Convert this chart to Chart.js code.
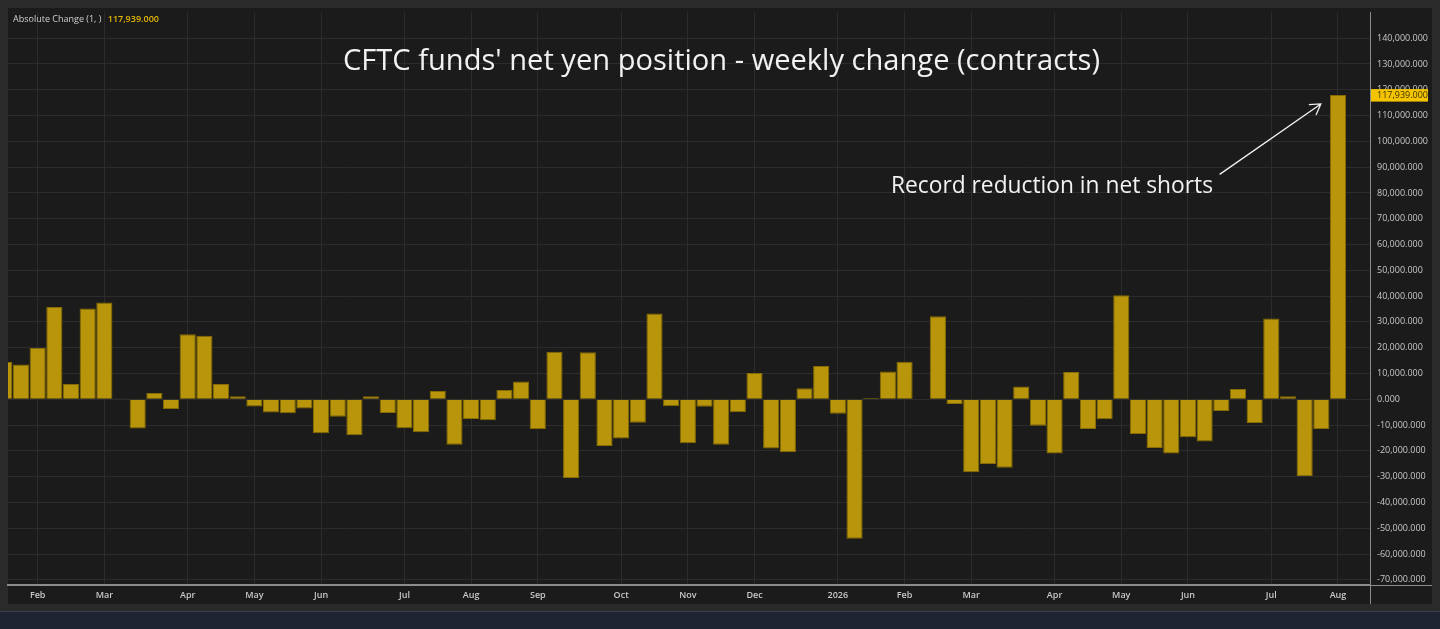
<!DOCTYPE html>
<html>
<head>
<meta charset="utf-8">
<title>CFTC funds' net yen position</title>
<script src="https://cdn.jsdelivr.net/npm/chart.js@4.4.1/dist/chart.umd.min.js"></script>
<style>
  html, body { margin: 0; padding: 0; background: #2a2a2a; overflow: hidden; }
  #wrap { width: 1440px; height: 629px; }
</style>
</head>
<body>
<div id="wrap"><canvas id="yenChart" width="1440" height="629"></canvas></div>
<script>
// first week of the series (weekly, Mondays)
const weekStart = '2025-01-20';

// weekly change in net yen position, contracts
const weeklyChange = [
  14500, 13500, 19900, 35800, 5900, 35200, 37500, 300, -11300, 2400,
  -3800, 25200, 24600, 5900, 1200, -2800, -5100, -5400, -3600, -13200,
  -6800, -13900, 1200, -5300, -11200, -12800, 3200, -17600, -7600, -8100,
  3600, 6900, -11500, 18400, -30500, 18200, -18100, -15200, -9100, 33300,
  -2700, -17000, -2900, -17600, -5000, 10200, -19100, -20500, 4300, 12900,
  -5600, -54100, 500, 10800, 14600, 200, 32200, -1800, -28300, -25100,
  -26500, 5000, -10300, -21000, 10600, -11500, -7700, 40300, -13500, -18900,
  -21000, -14700, -16400, -4500, 4000, -9200, 31300, 1200, -29700, -11500,
  117939
];

const monthNames = ['Jan', 'Feb', 'Mar', 'Apr', 'May', 'Jun', 'Jul', 'Aug', 'Sep', 'Oct', 'Nov', 'Dec'];

const chartTitle = "CFTC funds' net yen position - weekly change (contracts)";
const noteText = 'Record reduction in net shorts';
const seriesName = 'Absolute Change (1, )';

// y axis range, step and labelled range
const yMin = -72000;
const yMax = 150000;
const yStep = 10000;
const yTickFrom = -70000;
const yTickTo = 140000;

// build week dates
const t0 = Date.parse(weekStart + 'T00:00:00Z');
const weekDates = weeklyChange.map((v, i) => new Date(t0 + i * 7 * 86400000));

// first week of every month gets a tick
const monthTicks = [];
weekDates.forEach((d, i) => {
  if (i > 0 && d.getUTCMonth() !== weekDates[i - 1].getUTCMonth()) monthTicks.push(i);
});

// y ticks every 10,000
const yTicks = [];
for (let v = yTickFrom; v <= yTickTo; v += yStep) yTicks.push(v);

function monthLabel(i) {
  const d = weekDates[i];
  if (!d) return '';
  return d.getUTCMonth() === 0 ? String(d.getUTCFullYear()) : monthNames[d.getUTCMonth()];
}

function fmt(v) {
  return v.toLocaleString('en-US', { minimumFractionDigits: 3, maximumFractionDigits: 3 });
}

// squeeze text to a given width (reference font is narrow)
function fitText(ctx, text, cx, y, size, width) {
  ctx.save();
  ctx.font = size + 'px "Open Sans"';
  const w = ctx.measureText(text).width;
  ctx.translate(cx, y);
  ctx.scale(width / w, 1);
  ctx.textAlign = 'center';
  ctx.fillText(text, 0, 0);
  ctx.restore();
}

const chrome = {
  id: 'chrome',
  beforeDraw(chart) {
    const c = chart.ctx;
    c.save();
    c.fillStyle = '#2a2a2a';
    c.fillRect(0, 0, 1440, 629);
    c.fillStyle = '#1b1b1b';
    c.fillRect(8, 8, 1424, 596);
    c.fillStyle = '#1e2431';
    c.fillRect(0, 612, 1440, 17);
    c.fillStyle = '#3a414d';
    c.fillRect(0, 611, 1440, 1);
    c.restore();
  },
  afterDraw(chart) {
    const c = chart.ctx;
    const xs = chart.scales.x, ys = chart.scales.y;
    const area = chart.chartArea;
    c.save();

    // axis separators
    c.strokeStyle = '#8c8c8c';
    c.lineWidth = 1;
    c.beginPath();
    c.moveTo(area.right + 0.5, area.top);
    c.lineTo(area.right + 0.5, 604);
    c.moveTo(area.right, area.bottom + 0.5);
    c.lineTo(1432, area.bottom + 0.5);
    c.stroke();

    // series label top-left
    c.font = '9px "Open Sans"';
    c.textBaseline = 'middle';
    c.textAlign = 'left';
    c.fillStyle = '#cfcfcf';
    c.fillText(seriesName, 13, 19);
    const w = c.measureText(seriesName + ' ').width;
    c.fillStyle = '#e6b800';
    c.font = '600 9px "Open Sans"';
    c.fillText(fmt(weeklyChange[weeklyChange.length - 1]), 13 + w + 4, 19);

    // title
    c.fillStyle = '#f2f2f2';
    c.textBaseline = 'alphabetic';
    fitText(c, chartTitle, 721.5, 69.5, 29, 757);

    // note + arrow
    fitText(c, noteText, 1052, 192.5, 23.5, 322);
    const last = weeklyChange.length - 1;
    const tipX = xs.getPixelForValue(last - 1.03), tipY = ys.getPixelForValue(114500);
    const tailX = xs.getPixelForValue(last - 7.1), tailY = ys.getPixelForValue(87200);
    const ang = Math.atan2(tipY - tailY, tipX - tailX);
    c.strokeStyle = '#f2f2f2';
    c.lineWidth = 1.3;
    c.beginPath();
    c.moveTo(tailX, tailY);
    c.lineTo(tipX, tipY);
    c.moveTo(tipX - 12 * Math.cos(ang - 0.55), tipY - 12 * Math.sin(ang - 0.55));
    c.lineTo(tipX, tipY);
    c.lineTo(tipX - 12 * Math.cos(ang + 0.55), tipY - 12 * Math.sin(ang + 0.55));
    c.stroke();

    // last value tag on the axis
    const vy = ys.getPixelForValue(weeklyChange[last]);
    c.fillStyle = '#f5c400';
    c.fillRect(area.right + 1, vy - 6, 57, 12.5);
    c.fillStyle = '#3a3000';
    c.font = '9px "Open Sans"';
    c.textBaseline = 'middle';
    c.fillText(fmt(weeklyChange[last]), area.right + 7, vy + 0.5);
    c.restore();
  }
};

const ctx = document.getElementById('yenChart').getContext('2d');

new Chart(ctx, {
  type: 'bar',
  data: {
    datasets: [{
      label: seriesName,
      data: weeklyChange.map((v, i) => ({ x: i, y: v })),
      backgroundColor: '#b8950b',
      borderColor: '#866c00',
      borderWidth: 1,
      barPercentage: 0.97,
      categoryPercentage: 1
    }]
  },
  options: {
    responsive: false,
    animation: false,
    layout: { padding: { left: 8, top: 8, right: 8, bottom: 25 } },
    plugins: {
      legend: { display: false },
      tooltip: { enabled: false }
    },
    scales: {
      x: {
        type: 'linear',
        min: 0.22,
        max: 81.92,
        offset: false,
        afterBuildTicks: s => { s.ticks = monthTicks.map(i => ({ value: i })); },
        afterFit: s => { s.height = 19; },
        ticks: {
          autoSkip: false,
          maxRotation: 0,
          padding: 5,
          color: '#c8c8c8',
          font: { family: 'Open Sans', size: 9, weight: '600' },
          callback: v => monthLabel(v)
        },
        grid: { color: '#2c2c2c', drawTicks: false, offset: false },
        border: { color: '#8c8c8c', width: 2 }
      },
      y: {
        position: 'right',
        min: yMin,
        max: yMax,
        afterBuildTicks: s => { s.ticks = yTicks.map(v => ({ value: v })); },
        afterFit: s => { s.width = 62; },
        ticks: {
          autoSkip: false,
          padding: 7,
          color: '#c8c8c8',
          font: { family: 'Open Sans', size: 9 },
          callback: v => fmt(v)
        },
        grid: { color: '#2c2c2c', drawTicks: false },
        border: { color: '#8c8c8c' }
      }
    }
  },
  plugins: [chrome]
});
</script>
</body>
</html>
